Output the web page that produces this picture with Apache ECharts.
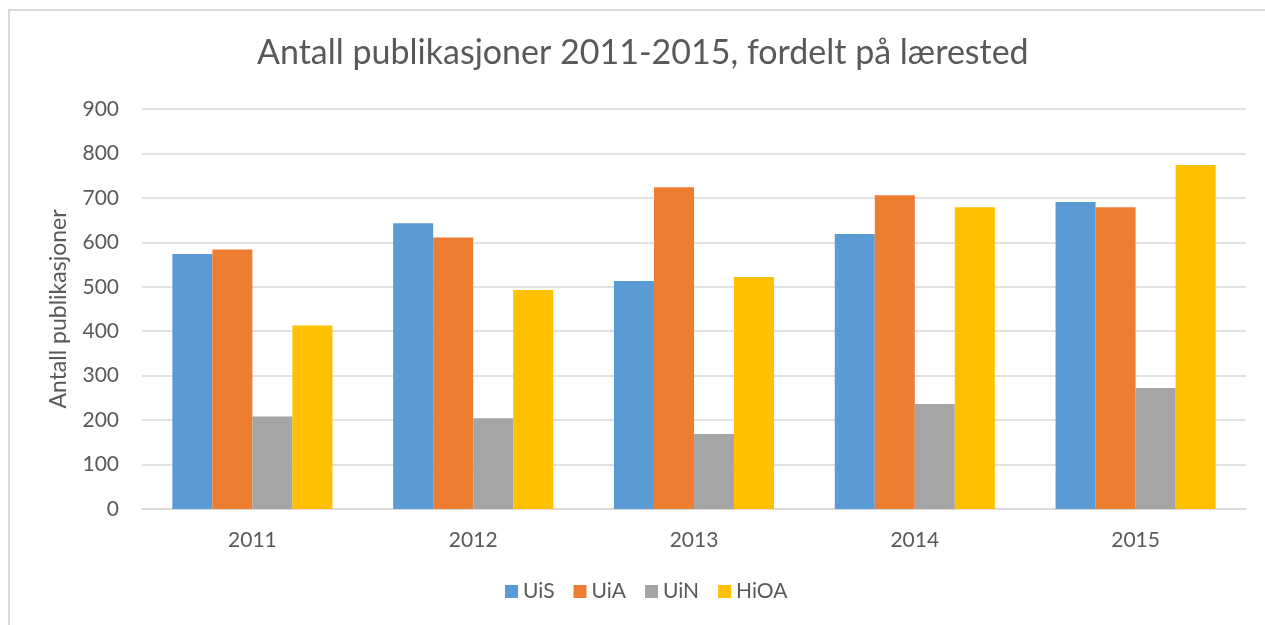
<!DOCTYPE html>
<html>
<head>
<meta charset="utf-8">
<script src="https://cdn.jsdelivr.net/npm/echarts@6/dist/echarts.min.js"></script>
<style>
  html, body { margin: 0; padding: 0; background: #fff; }
  #frame { position: absolute; left: 8px; top: 9px; width: 1270px; height: 630px; border: 2px solid #d9d9d9; box-sizing: border-box; }
  #chart { position: absolute; left: 0; top: 0; width: 1265px; height: 625px; }
</style>
</head>
<body>
<div id="frame"></div>
<div id="chart"></div>
<script>
// data
const years = ['2011', '2012', '2013', '2014', '2015'];
const uis = [574, 643, 513, 619, 691];
const uia = [584, 611, 724, 706, 679];
const uin = [208, 204, 169, 236, 272];
const hioa = [413, 493, 522, 679, 774];
const seriesNames = ['UiS', 'UiA', 'UiN', 'HiOA'];
const colors = ['#5b9bd5', '#ed7d31', '#a5a5a5', '#ffc000'];

const font = 'Lato, "Noto Sans", sans-serif';
const textColor = '#595959';

const chart = echarts.init(document.getElementById('chart'));

function bar(name, values, color) {
  return {
    name: name,
    type: 'bar',
    barGap: '0%',
    barCategoryGap: '27.5%',
    itemStyle: { color: color },
    data: values
  };
}

chart.setOption({
  animation: false,
  title: {
    text: 'Antall publikasjoner 2011-2015, fordelt på lærested',
    left: 252,
    top: 31,
    textStyle: { fontFamily: font, fontSize: 34, fontWeight: 'normal', color: textColor }
  },
  legend: {
    bottom: 18,
    left: 500,
    icon: 'rect',
    itemWidth: 13,
    itemHeight: 13,
    itemGap: 19,
    textStyle: { fontFamily: font, fontSize: 21, color: textColor },
    data: seriesNames
  },
  grid: { left: 142, right: 19, top: 109, bottom: 116 },
  xAxis: {
    type: 'category',
    data: years,
    axisLine: { lineStyle: { color: '#d9d9d9', width: 1.5 } },
    axisTick: { show: false },
    axisLabel: { fontFamily: font, fontSize: 21, color: textColor, margin: 21 }
  },
  yAxis: {
    type: 'value',
    min: 0,
    max: 900,
    interval: 100,
    name: 'Antall publikasjoner',
    nameLocation: 'middle',
    nameRotate: 90,
    nameGap: 72,
    nameTextStyle: { fontFamily: font, fontSize: 23, color: textColor },
    axisLine: { show: false },
    axisTick: { show: false },
    axisLabel: { fontFamily: font, fontSize: 21, color: textColor, margin: 23 },
    splitLine: { lineStyle: { color: '#d9d9d9', width: 1.5 } }
  },
  series: [
    bar(seriesNames[0], uis, colors[0]),
    bar(seriesNames[1], uia, colors[1]),
    bar(seriesNames[2], uin, colors[2]),
    bar(seriesNames[3], hioa, colors[3])
  ]
});
</script>
</body>
</html>
